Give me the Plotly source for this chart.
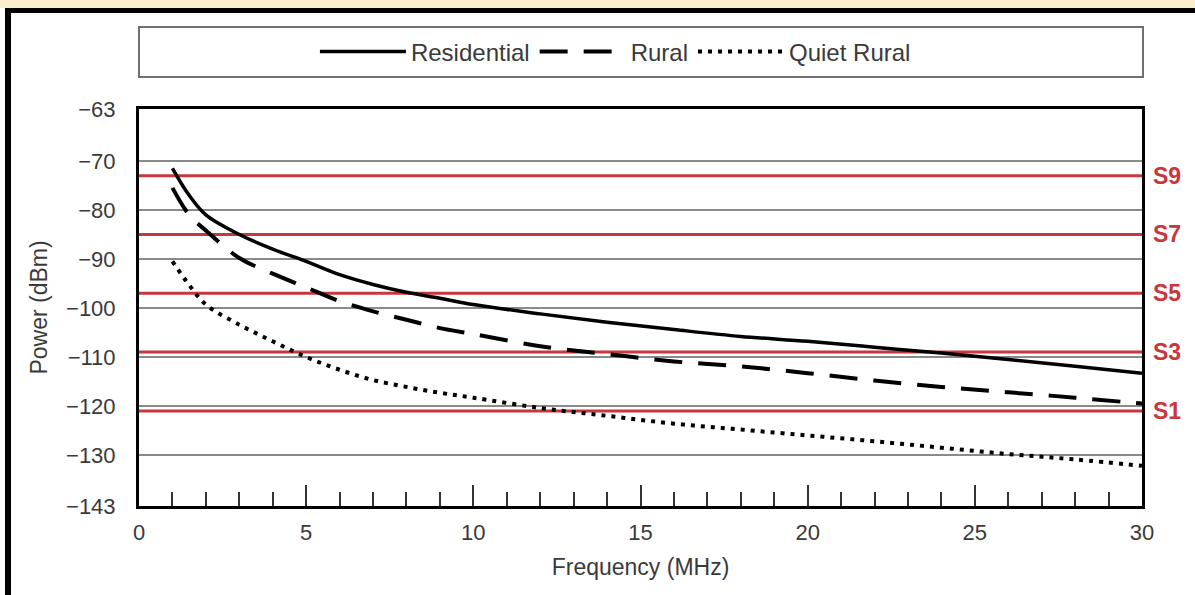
import plotly.graph_objects as go

# ---------------- data ----------------
freq_mhz = [1, 1.5, 2, 3, 4, 5, 6, 7, 8, 9, 10, 12, 14, 16, 18, 20, 22, 24, 26, 28, 30]
residential = [-71.5, -77.0, -81.0, -85.0, -88.0, -90.5, -93.2, -95.2, -96.8, -98.0, -99.3,
               -101.2, -102.9, -104.4, -105.8, -106.8, -108.0, -109.2, -110.5, -111.9, -113.3]
rural = [-75.5, -81.0, -84.2, -89.8, -93.0, -95.8, -98.6, -100.7, -102.4, -104.1, -105.3,
         -107.8, -109.4, -110.9, -111.9, -113.3, -114.8, -116.1, -117.2, -118.3, -119.5]
quiet_rural = [-90.5, -95.3, -99.3, -103.4, -106.8, -110.0, -112.6, -114.7, -116.1, -117.3, -118.3,
               -120.4, -122.0, -123.6, -124.8, -126.0, -127.2, -128.5, -129.8, -130.9, -132.2]

s_labels = ["S9", "S7", "S5", "S3", "S1"]
s_levels = [-73, -85, -97, -109, -121]

y_tick_vals = [-140.4, -130, -120, -110, -100, -90, -80, -70, -59.4]
y_tick_text = ["\u2212143", "\u2212130", "\u2212120", "\u2212110", "\u2212100",
               "\u221290", "\u221280", "\u221270", "\u221263"]
x_tick_vals = [0, 5, 10, 15, 20, 25, 30]

# ---------------- layout geometry ----------------
W, H = 1195, 595
L, R, T, B = 139, 53, 109, 89
PW, PH = W - L - R, H - T - B


def px_x(x):
    return (x - L) / PW


def px_y(y):
    return (H - B - y) / PH


RED = "#c8373c"
FONT = "Liberation Sans, Arial, sans-serif"
TXT = "#3a3a3a"

fig = go.Figure()
fig.add_trace(go.Scatter(x=freq_mhz, y=residential, mode="lines", name="Residential",
                         line=dict(color="black", width=3.5, shape="spline")))
fig.add_trace(go.Scatter(x=freq_mhz, y=rural, mode="lines", name="Rural",
                         line=dict(color="black", width=4, dash="28px,16px", shape="spline")))
fig.add_trace(go.Scatter(x=freq_mhz, y=quiet_rural, mode="lines", name="Quiet Rural",
                         line=dict(color="black", width=4, dash="4px,6px", shape="spline")))

for lab, lev in zip(s_labels, s_levels):
    fig.add_shape(type="line", xref="paper", x0=0, x1=1, yref="y", y0=lev, y1=lev,
                  line=dict(color=RED, width=3), layer="below")
    fig.add_annotation(x=1, xref="paper", y=lev, yref="y", text=lab, showarrow=False,
                       xanchor="left", xshift=9, font=dict(family=FONT, size=23, color=RED,
                                                           weight="bold"))

# legend box
fig.add_shape(type="rect", xref="paper", yref="paper", x0=0, x1=px_x(1143),
              y0=px_y(77), y1=px_y(27), line=dict(color="#707070", width=2),
              fillcolor="white", layer="below")
# top band and outer border
fig.add_shape(type="rect", xref="paper", yref="paper", x0=px_x(0), x1=px_x(W),
              y0=px_y(8), y1=px_y(0), line=dict(width=0), fillcolor="#fbefcb")
fig.add_shape(type="line", xref="paper", yref="paper", x0=px_x(5), x1=px_x(W),
              y0=px_y(10.5), y1=px_y(10.5), line=dict(color="black", width=5))
fig.add_shape(type="line", xref="paper", yref="paper", x0=px_x(8), x1=px_x(8),
              y0=px_y(10.5), y1=px_y(H), line=dict(color="black", width=6))

fig.update_layout(
    width=W, height=H,
    margin=dict(l=L, r=R, t=T, b=B, pad=0),
    paper_bgcolor="white", plot_bgcolor="white",
    font=dict(family=FONT, color=TXT),
    showlegend=True,
    legend=dict(orientation="h", x=0.475, xanchor="center", y=px_y(52), yanchor="middle",
                font=dict(family=FONT, size=24, color=TXT), bgcolor="rgba(0,0,0,0)",
                itemwidth=86, traceorder="normal"),
    xaxis=dict(range=[0, 30], tickvals=x_tick_vals, ticks="inside", ticklen=21, tickwidth=2,
               tickcolor="#333", showgrid=False, zeroline=False,
               showline=True, linecolor="black", linewidth=3, mirror=True,
               tickfont=dict(family=FONT, size=22, color=TXT), ticklabelstandoff=5,
               minor=dict(ticks="inside", ticklen=14, tickwidth=2, tickcolor="#333", dtick=1,
                          showgrid=False),
               title=dict(text="Frequency (MHz)", font=dict(family=FONT, size=23, color=TXT),
                          standoff=15)),
    yaxis=dict(range=[y_tick_vals[0], y_tick_vals[-1]], tickvals=y_tick_vals, ticktext=y_tick_text,
               ticks="", showgrid=True, gridcolor="#8a8a8a", gridwidth=1.5, zeroline=False,
               showline=True, linecolor="black", linewidth=3, mirror=True,
               tickfont=dict(family=FONT, size=22, color=TXT), ticklabelstandoff=16,
               title=dict(text="Power (dBm)", font=dict(family=FONT, size=23, color=TXT),
                          standoff=12)),
)

fig.write_html("out.html", config={"displayModeBar": False},
               post_script="document.body.style.margin='0';")
